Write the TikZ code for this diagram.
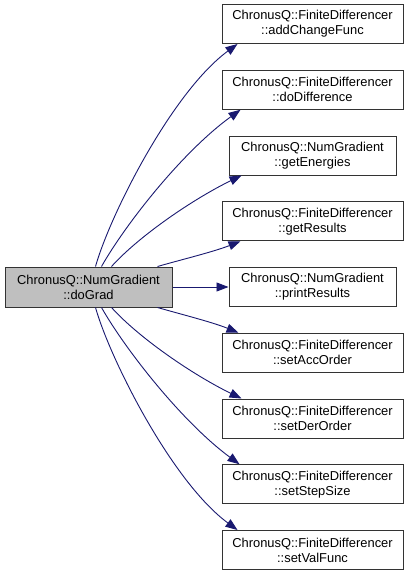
\documentclass[tikz,border=0pt]{standalone}
\usepackage{fontspec}
\setmainfont{Liberation Sans}
\usetikzlibrary{arrows.meta}
\definecolor{edgeblue}{HTML}{191970}
\begin{document}
\begin{tikzpicture}[x=1pt,y=-1pt,
  fbox/.style={draw=black!80, line width=1pt, minimum width=181pt, minimum height=39pt, inner sep=0pt, align=center, font=\fontsize{12.9}{15}\selectfont},
  nbox/.style={fbox, minimum width=167pt},
  mainbox/.style={fbox, fill=black!25, minimum width=167pt, minimum height=40pt},
  call/.style={draw=edgeblue, line width=0.9pt, -{Triangle[length=12pt,width=9pt]}}]
\useasboundingbox (0,0) rectangle (411,575);
\node[mainbox] (m) at (88.5,287) {ChronusQ::NumGradient\\::doGrad};
\node[fbox] (t1) at (312.5,24) {ChronusQ::FiniteDifferencer\\::addChangeFunc};
\node[fbox] (t2) at (312.5,89.75) {ChronusQ::FiniteDifferencer\\::doDifference};
\node[nbox] (t3) at (312.5,155.5) {ChronusQ::NumGradient\\::getEnergies};
\node[fbox] (t4) at (312.5,221.25) {ChronusQ::FiniteDifferencer\\::getResults};
\node[nbox] (t5) at (312.5,287) {ChronusQ::NumGradient\\::printResults};
\node[fbox] (t6) at (312.5,352.75) {ChronusQ::FiniteDifferencer\\::setAccOrder};
\node[fbox] (t7) at (312.5,418.5) {ChronusQ::FiniteDifferencer\\::setDerOrder};
\node[fbox] (t8) at (312.5,484.25) {ChronusQ::FiniteDifferencer\\::setStepSize};
\node[fbox] (t9) at (312.5,550) {ChronusQ::FiniteDifferencer\\::setValFunc};
\draw[call] ([xshift=91pt]m.north west) .. controls (110,215) and (172,92) .. ([xshift=16pt]t1.south west);
\draw[call] ([xshift=97pt]m.north west) .. controls (125,225) and (182,152) .. ([xshift=19pt]t2.south west);
\draw[call] ([xshift=107pt]m.north west) .. controls (140,235) and (195,198) .. ([xshift=13pt]t3.south west);
\draw[call] ([xshift=153pt]m.north west) .. controls (180,260) and (213,252) .. ([xshift=19pt]t4.south west);
\draw[call] (m.east) -- (t5.west);
\draw[call] ([xshift=153pt]m.south west) .. controls (180,314) and (212,322) .. ([xshift=17pt]t6.north west);
\draw[call] ([xshift=107pt]m.south west) .. controls (140,339) and (195,376) .. ([xshift=20pt]t7.north west);
\draw[call] ([xshift=97pt]m.south west) .. controls (125,349) and (182,422) .. ([xshift=18pt]t8.north west);
\draw[call] ([xshift=91pt]m.south west) .. controls (110,359) and (172,482) .. ([xshift=16pt]t9.north west);
\end{tikzpicture}
\end{document}
